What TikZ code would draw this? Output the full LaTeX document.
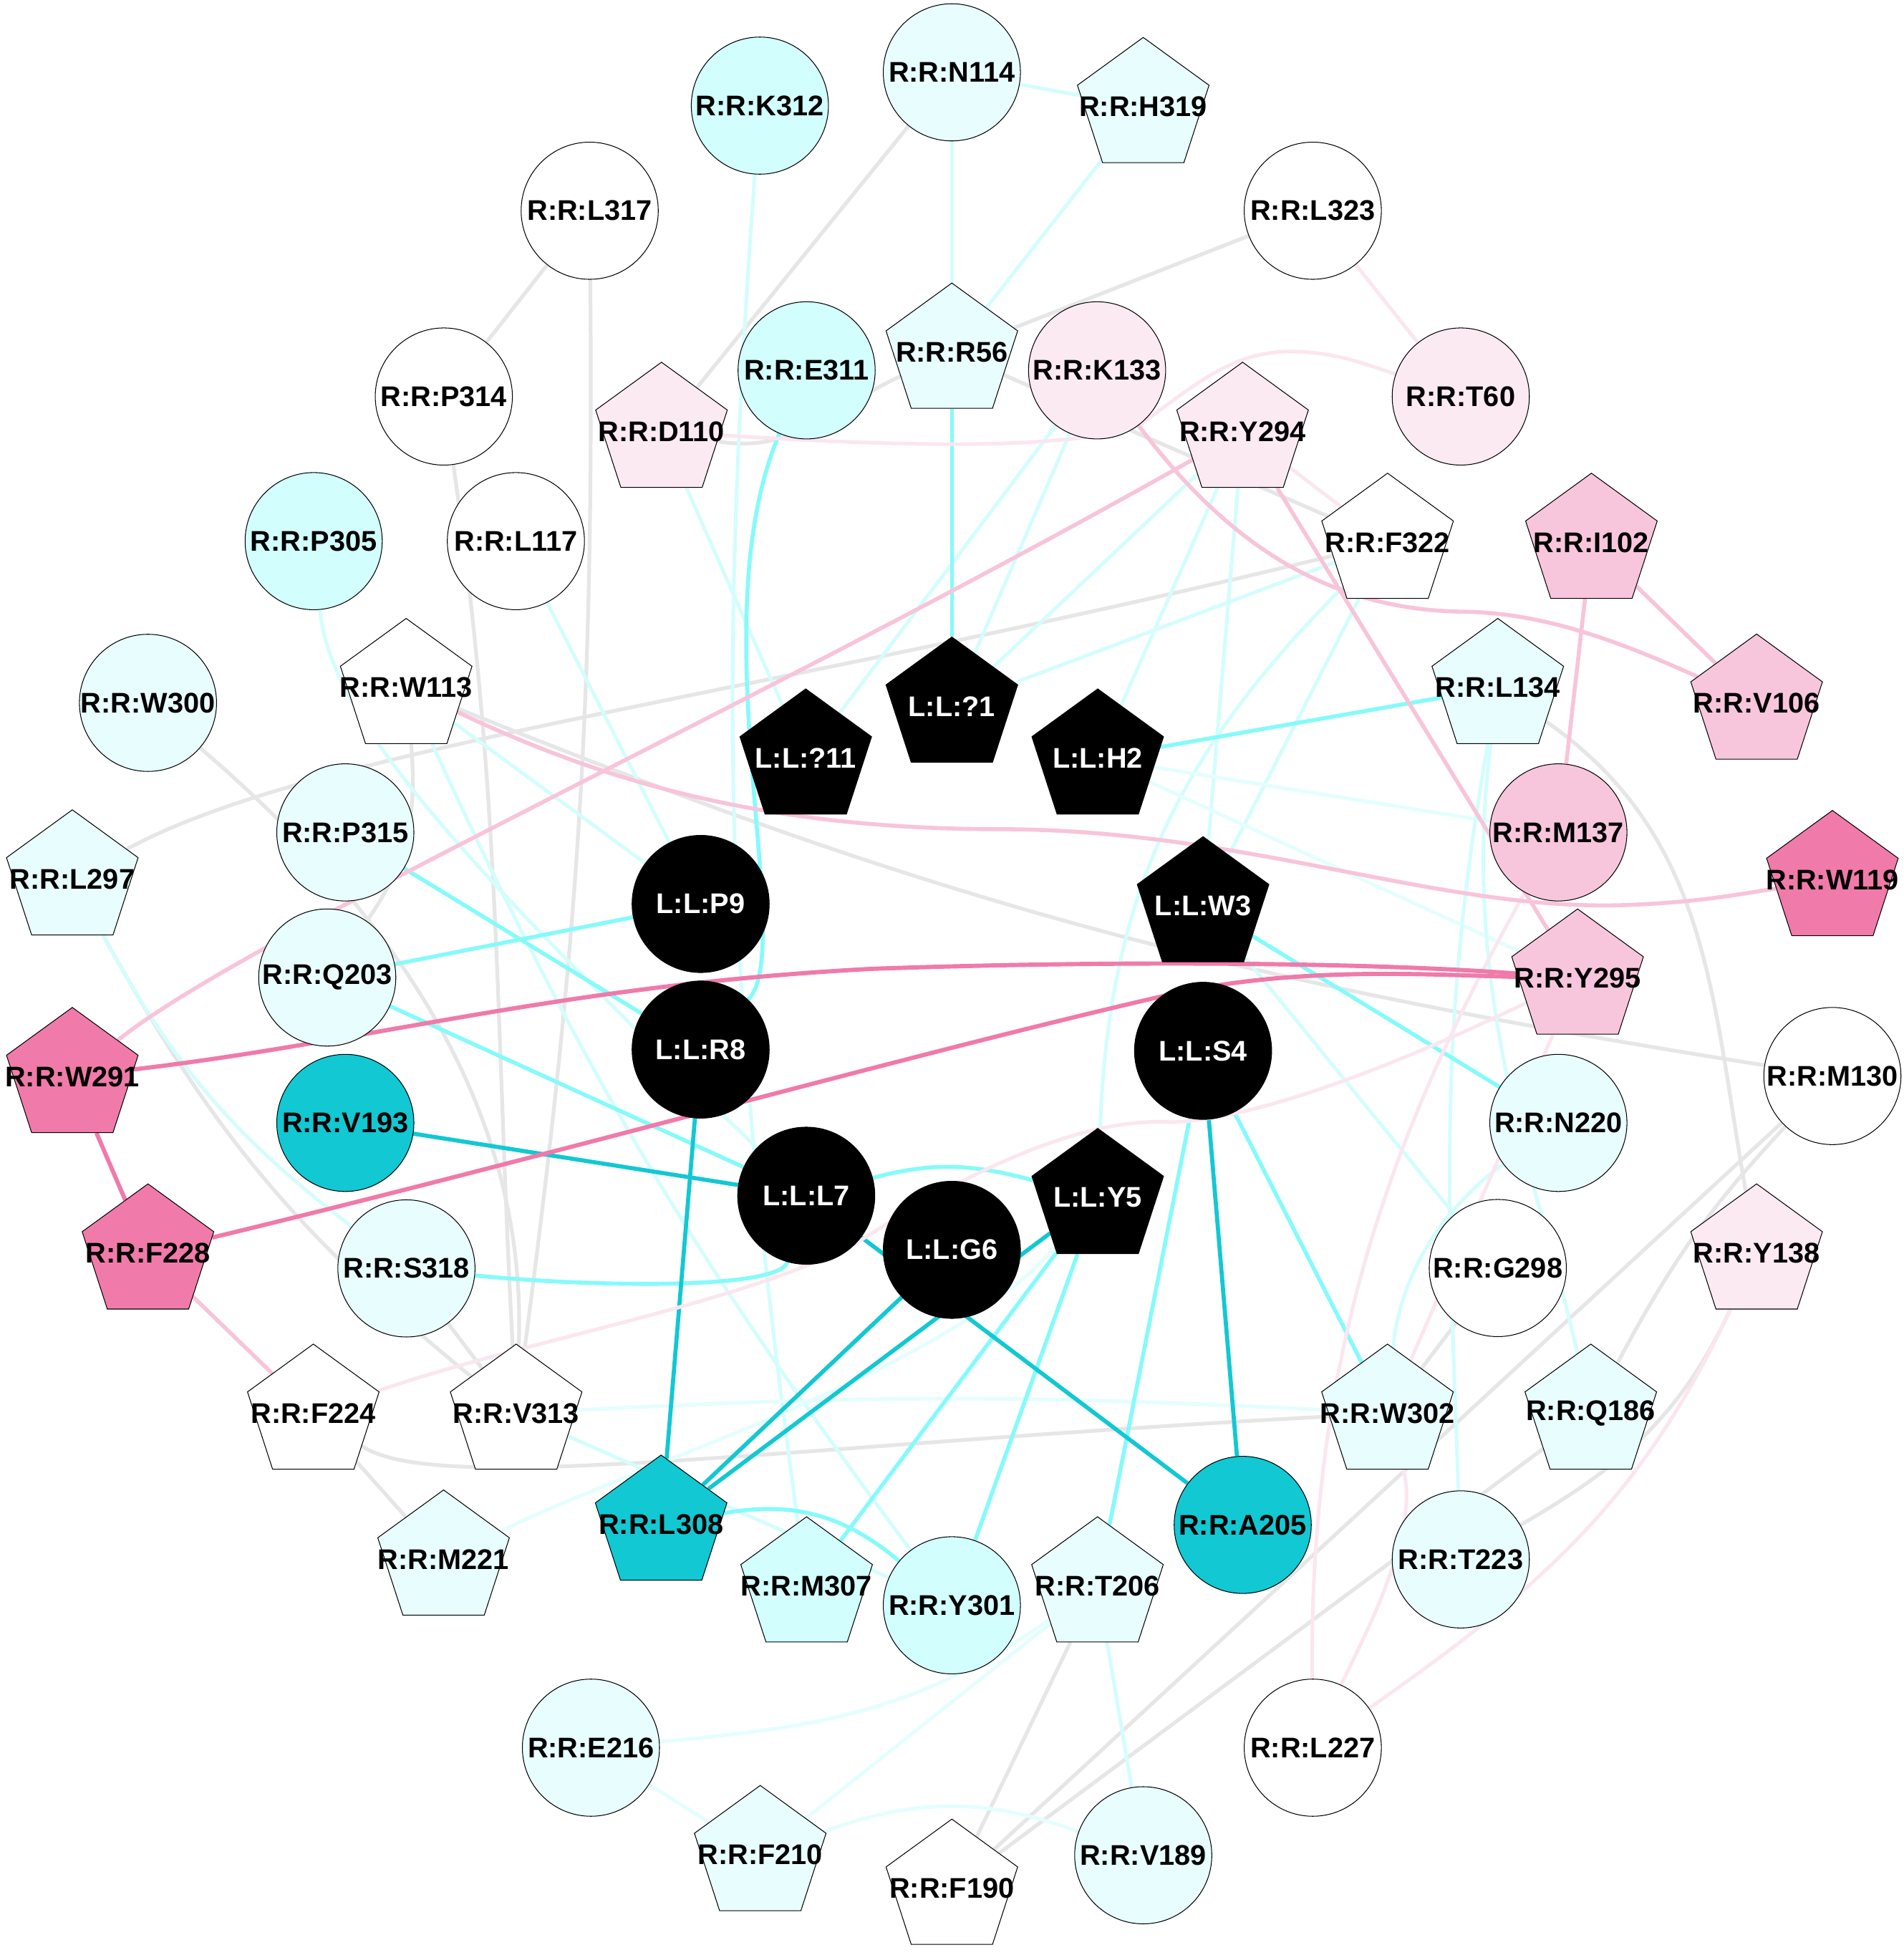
\documentclass[tikz,border=0pt]{standalone}
\usepackage{fontspec}
\setmainfont{Liberation Sans}
\usetikzlibrary{shapes.geometric}
\pgfdeclarelayer{edges}
\pgfsetlayers{edges,main}
\definecolor{nlcy}{HTML}{E8FEFE}
\definecolor{ncy}{HTML}{D2FEFE}
\definecolor{nteal}{HTML}{12C8D2}
\definecolor{nlpk}{HTML}{FBEAF2}
\definecolor{npk}{HTML}{F8C6DC}
\definecolor{nhpk}{HTML}{F07BAB}
\definecolor{cgry}{HTML}{E6E6E6}
\definecolor{cpcy}{HTML}{D4FDFD}
\definecolor{cvpcy}{HTML}{E4FEFE}
\definecolor{cmcy}{HTML}{86FAFA}
\definecolor{ctel}{HTML}{12C8D2}
\definecolor{cppk}{HTML}{FBE6F0}
\definecolor{cpk}{HTML}{F8C4DA}
\definecolor{chpk}{HTML}{F07AAA}
\newcommand{\nlab}[1]{\makebox[0pt][c]{#1}}
\begin{document}
\begin{tikzpicture}[x=0.25pt,y=0.25pt,
  base/.style={draw=black, line width=0.15pt, inner sep=0pt, font=\fontsize{5.7}{6.5}\selectfont\bfseries},
  circ/.style={base, circle, minimum size=27.5pt},
  pent/.style={base, regular polygon, regular polygon sides=5, minimum size=27.75pt},
  lig/.style={fill=black, text=white},
  egry/.style={draw=cgry, line width=0.75pt},
  epcy/.style={draw=cpcy, line width=0.72pt},
  evpcy/.style={draw=cvpcy, line width=0.72pt},
  emcy/.style={draw=cmcy, line width=0.8pt},
  etel/.style={draw=ctel, line width=0.82pt},
  eppk/.style={draw=cppk, line width=0.72pt},
  epk/.style={draw=cpk, line width=0.8pt},
  ehpk/.style={draw=chpk, line width=0.85pt}]
\useasboundingbox (0,0) rectangle (1527,-1568);
% circles
\node[circ,fill=nlcy] (N114) at (763.5,-58) {\nlab{R:R:N114}};
\node[circ,fill=ncy] (K312) at (609.5,-84.7) {\nlab{R:R:K312}};
\node[circ,fill=white] (L317) at (473,-169) {\nlab{R:R:L317}};
\node[circ,fill=white] (L323) at (1053,-169) {\nlab{R:R:L323}};
\node[circ,fill=white] (P314) at (356,-318) {\nlab{R:R:P314}};
\node[circ,fill=ncy] (E311) at (647,-297) {\nlab{R:R:E311}};
\node[circ,fill=nlpk] (K133) at (880,-297) {\nlab{R:R:K133}};
\node[circ,fill=nlpk] (T60) at (1171.7,-318) {\nlab{R:R:T60}};
\node[circ,fill=ncy] (P305) at (251.6,-434) {\nlab{R:R:P305}};
\node[circ,fill=white] (L117) at (413.8,-434) {\nlab{R:R:L117}};
\node[circ,fill=nlcy] (W300) at (118.7,-563.7) {\nlab{R:R:W300}};
\node[circ,fill=nlcy] (P315) at (277,-667.6) {\nlab{R:R:P315}};
\node[circ,fill=npk] (M137) at (1250,-667.6) {\nlab{R:R:M137}};
\node[circ,lig] (P9) at (562,-725) {\nlab{L:L:P9}};
\node[circ,fill=nlcy] (Q203) at (262.5,-784) {\nlab{R:R:Q203}};
\node[circ,lig] (R8) at (562,-841.8) {\nlab{L:L:R8}};
\node[circ,lig] (S4) at (965,-842.8) {\nlab{L:L:S4}};
\node[circ,fill=white] (M130) at (1469.8,-863) {\nlab{R:R:M130}};
\node[circ,fill=nteal] (V193) at (277,-900.6) {\nlab{R:R:V193}};
\node[circ,fill=nlcy] (N220) at (1250,-900.6) {\nlab{R:R:N220}};
\node[circ,lig] (L7) at (646.7,-959) {\nlab{L:L:L7}};
\node[circ,lig] (G6) at (763.5,-1002.4) {\nlab{L:L:G6}};
\node[circ,fill=nlcy] (S318) at (326,-1017.3) {\nlab{R:R:S318}};
\node[circ,fill=white] (G298) at (1201.4,-1017) {\nlab{R:R:G298}};
\node[circ,fill=nteal] (A205) at (996.8,-1223) {\nlab{R:R:A205}};
\node[circ,fill=nlcy] (T223) at (1171.7,-1250.7) {\nlab{R:R:T223}};
\node[circ,fill=ncy] (Y301) at (763.5,-1287.5) {\nlab{R:R:Y301}};
\node[circ,fill=nlcy] (E216) at (474,-1401.7) {\nlab{R:R:E216}};
\node[circ,fill=white] (L227) at (1053,-1401.7) {\nlab{R:R:L227}};
\node[circ,fill=nlcy] (V189) at (917,-1488) {\nlab{R:R:V189}};
% pentagons
\node[pent,fill=nlcy] (H319) at (917,-85.5) {\nlab{R:R:H319}};
\node[pent,fill=nlcy] (R56) at (763.5,-282.5) {\nlab{R:R:R56}};
\node[pent,fill=nlpk] (D110) at (530.6,-346) {\nlab{R:R:D110}};
\node[pent,fill=nlpk] (Y294) at (996.7,-346) {\nlab{R:R:Y294}};
\node[pent,fill=white] (F322) at (1113,-435) {\nlab{R:R:F322}};
\node[pent,fill=npk] (I102) at (1276.5,-435) {\nlab{R:R:I102}};
\node[pent,fill=white] (W113) at (325.8,-551.5) {\nlab{R:R:W113}};
\node[pent,fill=nlcy] (L134) at (1201.4,-551.5) {\nlab{R:R:L134}};
\node[pent,fill=npk] (V106) at (1409,-564) {\nlab{R:R:V106}};
\node[pent,lig] (Q1) at (763.5,-566.4) {\nlab{L:L:?1}};
\node[pent,lig] (Q11) at (646.3,-608) {\nlab{L:L:?11}};
\node[pent,lig] (H2) at (880.5,-608) {\nlab{L:L:H2}};
\node[pent,fill=nlcy] (L297) at (58,-705) {\nlab{R:R:L297}};
\node[pent,fill=nhpk] (W119) at (1469.8,-705.5) {\nlab{R:R:W119}};
\node[pent,lig] (W3) at (965,-726.5) {\nlab{L:L:W3}};
\node[pent,fill=npk] (Y295) at (1265.4,-784.5) {\nlab{R:R:Y295}};
\node[pent,fill=nhpk] (W291) at (58,-863.5) {\nlab{R:R:W291}};
\node[pent,lig] (Y5) at (880.5,-960.5) {\nlab{L:L:Y5}};
\node[pent,fill=nhpk] (F228) at (118.7,-1005) {\nlab{R:R:F228}};
\node[pent,fill=nlpk] (Y138) at (1409,-1005) {\nlab{R:R:Y138}};
\node[pent,fill=white] (F224) at (251.3,-1133.5) {\nlab{R:R:F224}};
\node[pent,fill=white] (V313) at (414,-1133.5) {\nlab{R:R:V313}};
\node[pent,fill=nlcy] (W302) at (1112.9,-1133.5) {\nlab{R:R:W302}};
\node[pent,fill=nlcy] (Q186) at (1276,-1133.5) {\nlab{R:R:Q186}};
\node[pent,fill=nteal] (L308) at (530.3,-1222.5) {\nlab{R:R:L308}};
\node[pent,fill=nlcy] (M221) at (355.8,-1250.5) {\nlab{R:R:M221}};
\node[pent,fill=ncy] (M307) at (647,-1272) {\nlab{R:R:M307}};
\node[pent,fill=nlcy] (T206) at (880.3,-1272) {\nlab{R:R:T206}};
\node[pent,fill=nlcy] (F210) at (609.8,-1487.5) {\nlab{R:R:F210}};
\node[pent,fill=white] (F190) at (763.5,-1514.5) {\nlab{R:R:F190}};
\begin{pgfonlayer}{edges}
\fill[white] (0,0) rectangle (1527,-1568);
% grey
\draw[egry] (N114) -- (D110);
\draw[egry] (L317) -- (P314);
\draw[egry] (L317) to[bend left=4] (V313);
\draw[egry] (P314) to[out=-82,in=93] (V313);
\draw[egry] (L323) -- (R56);
\draw[egry] (R56) to[out=-155,in=-10] (D110);
\draw[egry] (R56) -- (F322);
\draw[egry] (F322) .. controls (600,-560) and (250,-600) .. (L297);
\draw[egry] (W300) .. controls (265,-690) and (425,-850) .. (V313);
\draw[egry] (W113) to[out=-22,in=171] (M130);
\draw[egry] (W113) to[out=-85,in=55] (Q203);
\draw[egry] (L297) to[bend right=11] (V313);
\draw[egry] (S318) -- (V313);
\draw[egry] (L134) to[out=-35,in=100] (Y138);
\draw[egry] (G298) -- (W302);
\draw[egry] (F224) .. controls (350,-1200) and (620,-1160) .. (W302);
\draw[egry] (F224) -- (M221);
\draw[egry] (T223) to[out=30,in=-115] (Y138);
\draw[egry] (Q186) to[out=62,in=-133] (M130);
\draw[egry] (T206) -- (F190);
\draw[egry] (F190) -- (M130);
\draw[egry] (F190) -- (Q186);
% pale cyan
\draw[epcy] (K312) to[bend right=6] (M307);
\draw[epcy] (N114) -- (R56);
\draw[epcy] (N114) -- (H319);
\draw[epcy] (H319) -- (R56);
\draw[epcy] (D110) -- (Q11);
\draw[epcy] (K133) -- (Q11);
\draw[epcy] (K133) -- (Q1);
\draw[epcy] (Y294) -- (Q1);
\draw[epcy] (Y294) -- (H2);
\draw[epcy] (Y294) -- (W3);
\draw[epcy] (F322) -- (Q1);
\draw[epcy] (F322) -- (W3);
\draw[epcy] (F322) to[out=-135,in=88] (Y5);
\draw[epcy] (P305) .. controls (265,-580) and (380,-700) .. (L7);
\draw[epcy] (W113) to[bend right=6] (Y301);
\draw[epcy] (W113) -- (P9);
\draw[epcy] (L117) -- (P9);
\draw[epcy] (L297) to[bend right=12] (S318);
\draw[evpcy] (H2) -- (M137);
\draw[evpcy] (H2) -- (Y295);
\draw[epcy] (W3) -- (G298);
\draw[epcy] (L134) to[out=-100,in=92] (T223);
\draw[epcy] (L134) .. controls (1170,-800) and (1235,-950) .. (Q186);
\draw[epcy] (N220) .. controls (1150,-975) and (1122,-1030) .. (W302);
\draw[evpcy] (V313) to[bend left=3] (W302);
\draw[epcy] (V313) -- (Y301);
\draw[evpcy] (M221) .. controls (520,-1170) and (760,-1100) .. (Y5);
\draw[evpcy] (T206) to[out=-145,in=5] (E216);
\draw[evpcy] (T206) -- (F210);
\draw[evpcy] (E216) -- (F210);
\draw[evpcy] (F210) to[bend left=20] (V189);
\draw[epcy] (T206) -- (V189);
% medium cyan
\draw[emcy] (R56) -- (Q1);
\draw[emcy] (E311) .. controls (560,-500) and (640,-760) .. (R8);
\draw[emcy] (P315) -- (R8);
\draw[emcy] (Q203) -- (P9);
\draw[emcy] (Q203) -- (L7);
\draw[emcy] (S318) .. controls (470,-1032) and (625,-1035) .. (L7);
\draw[emcy] (L7) to[out=15,in=165] (Y5);
\draw[emcy] (Y5) -- (M307);
\draw[emcy] (Y5) -- (Y301);
\draw[emcy] (S4) -- (T206);
\draw[emcy] (S4) -- (W302);
\draw[emcy] (W3) -- (N220);
\draw[emcy] (H2) -- (L134);
\draw[emcy] (L308) to[out=10,in=140] (Y301);
% teal
\draw[etel] (V193) -- (L7);
\draw[etel] (R8) -- (L308);
\draw[etel] (G6) -- (L308);
\draw[etel] (Y5) -- (L308);
\draw[etel] (L7) -- (A205);
\draw[etel] (S4) -- (A205);
% pale pink
\draw[eppk] (L323) -- (T60);
\draw[eppk] (Y294) -- (F322);
\draw[eppk] (D110) .. controls (720,-358) and (860,-362) .. (915,-340) .. controls (960,-308) and (990,-280) .. (1040,-282) .. controls (1070,-283) and (1090,-290) .. (T60);
\draw[eppk] (F224) .. controls (420,-1075) and (600,-1045) .. (690,-995) .. controls (760,-950) and (860,-895) .. (940,-900) .. controls (1020,-897) and (1150,-840) .. (Y295);
\draw[eppk] (Y138) to[out=-115,in=35] (L227);
\draw[eppk] (Y295) -- (W302);
\draw[eppk] (W302) .. controls (1140,-1230) and (1090,-1320) .. (L227);
\draw[eppk] (M137) .. controls (1120,-900) and (1050,-1080) .. (L227);
% pink
\draw[epk] (K133) .. controls (980,-430) and (1060,-490) .. (1176,-490.6) .. controls (1240,-492) and (1300,-515) .. (V106);
\draw[epk] (Y294) -- (Y295);
\draw[epk] (W291) .. controls (200,-750) and (600,-570) .. (Y294);
\draw[epk] (I102) -- (V106);
\draw[epk] (I102) -- (M137);
\draw[epk] (W113) .. controls (470,-620) and (600,-665) .. (800,-665) .. controls (1000,-665) and (1150,-730) .. (1300,-726) .. controls (1360,-724) and (1390,-718) .. (W119);
\draw[epk] (F228) -- (F224);
% hot pink
\draw[ehpk] (W291) -- (F228);
\draw[ehpk] (W291) .. controls (300,-835) and (450,-790) .. (700,-777) .. controls (900,-770) and (1100,-772) .. (Y295);
\draw[ehpk] (F228) .. controls (450,-925) and (750,-840) .. (950,-795) .. controls (1050,-775) and (1150,-782) .. (Y295);
\end{pgfonlayer}
\end{tikzpicture}
\end{document}
